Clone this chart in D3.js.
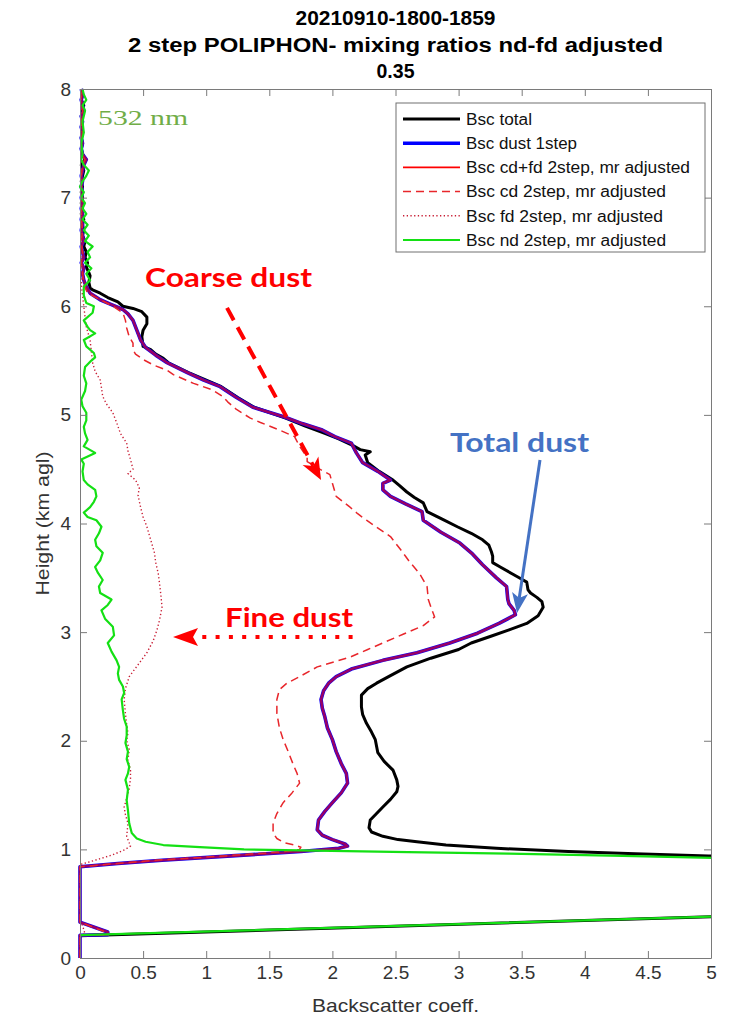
<!DOCTYPE html>
<html>
<head>
<meta charset="utf-8">
<script src="https://cdn.jsdelivr.net/npm/d3@7"></script>
<style>
  body { margin: 0; background: #fff; }
  svg { display: block; }
</style>
</head>
<body>
<svg id="chart" width="734" height="1017"></svg>
<script>
// ---------------------------------------------------------------
// Backscatter profiles, 532 nm, 2021-09-10 18:00-18:59 UTC
// Each profile is a list of [height km agl, backscatter coeff.]
// ---------------------------------------------------------------
const titleLines = ["20210910-1800-1859", "2 step POLIPHON- mixing ratios nd-fd adjusted", "0.35"];
const xTicks = [0, 0.5, 1, 1.5, 2, 2.5, 3, 3.5, 4, 4.5, 5];
const yTicks = [0, 1, 2, 3, 4, 5, 6, 7, 8];
const seriesNames = ["Bsc total", "Bsc dust 1step", "Bsc cd+fd 2step, mr adjusted",
                     "Bsc cd 2step, mr adjusted", "Bsc fd 2step, mr adjusted", "Bsc nd 2step, mr adjusted"];

const bscTotal = [
  [0.205,0],[0.38,5.0],[0.40,5.6],[0.90,5.6],[0.93,5.15],[0.94,4.98],[0.96,4.4],[0.98,3.87],[1.01,3.3],
  [1.04,2.90],[1.07,2.67],[1.09,2.52],[1.12,2.40],[1.16,2.31],[1.20,2.29],[1.27,2.30],[1.33,2.35],[1.39,2.40],
  [1.46,2.46],[1.53,2.51],[1.58,2.52],[1.64,2.51],[1.73,2.48],[1.81,2.41],[1.89,2.36],[2.01,2.34],[2.08,2.31],
  [2.16,2.27],[2.24,2.24],[2.31,2.23],[2.42,2.23],[2.48,2.28],[2.53,2.35],[2.60,2.46],[2.68,2.59],[2.76,2.78],
  [2.84,3.00],[2.90,3.10],[2.96,3.25],[3.02,3.40],[3.08,3.54],[3.15,3.63],[3.23,3.67],[3.28,3.66],[3.32,3.62],
  [3.36,3.57],[3.39,3.55],[3.46,3.54],[3.50,3.48],[3.54,3.42],[3.60,3.33],[3.64,3.27],[3.70,3.27],[3.74,3.26],
  [3.80,3.24],[3.85,3.19],[3.91,3.10],[3.97,2.99],[4.04,2.87],[4.11,2.75],[4.19,2.72],[4.24,2.65],[4.29,2.59],
  [4.35,2.53],[4.40,2.48],[4.48,2.37],[4.56,2.28],[4.63,2.26],[4.66,2.30],[4.68,2.22],[4.72,2.16],[4.78,2.05],
  [4.83,1.94],[4.90,1.78],[4.97,1.63],[5.07,1.38],[5.16,1.25],[5.26,1.12],[5.32,1.00],[5.39,0.86],[5.48,0.70],
  [5.52,0.66],[5.56,0.60],[5.60,0.56],[5.63,0.50],[5.72,0.49],[5.78,0.50],[5.84,0.53],[5.90,0.53],[5.95,0.49],
  [5.98,0.42],[6.00,0.34],[6.04,0.30],[6.08,0.22],[6.12,0.16],[6.15,0.10],[6.17,0.08],[6.22,0.07],[6.28,0.08],
  [6.31,0.07],[6.36,0.05],[6.40,0.06],[6.45,0.04],[6.50,0.05],[6.55,0.03],[6.60,0.04],[6.65,0.02],[6.70,0.03],
  [6.75,0.02],[6.80,0.03],[6.85,0.01],[6.90,0.02],[6.95,0.01],[7.00,0.02],[7.05,0.01],[7.10,0.02],[7.15,0.01],
  [7.20,0.02],[7.25,0.03],[7.30,0.01],[7.35,0.04],[7.40,0.02],[7.45,0.01],[7.50,0.02],[7.55,0.01],[7.60,0.02],
  [7.65,0.01],[7.70,0.02],[7.75,0.01],[7.80,0.02],[7.85,0.03],[7.90,0.01],[7.95,0.02],[8.00,0.01]
];

const bscDust1Step = [
  [0,0],[0.21,0],[0.215,0.22],[0.24,0.22],[0.33,0],[0.84,0],[0.87,0.3],[0.90,0.65],[0.94,1.2],[0.98,1.75],
  [1.01,2.05],[1.03,2.12],[1.05,2.10],[1.09,2.00],[1.13,1.92],[1.18,1.88],[1.27,1.89],[1.35,1.94],[1.43,2.00],
  [1.52,2.07],[1.61,2.12],[1.70,2.11],[1.79,2.07],[1.90,2.03],[2.01,2.00],[2.12,1.96],[2.22,1.94],[2.30,1.92],
  [2.38,1.91],[2.46,1.93],[2.53,1.97],[2.59,2.03],[2.66,2.15],[2.74,2.40],[2.81,2.67],[2.90,2.93],[2.99,3.15],
  [3.08,3.32],[3.16,3.45],[3.20,3.44],[3.26,3.40],[3.30,3.39],[3.42,3.38],[3.50,3.30],[3.62,3.19],[3.72,3.11],
  [3.82,3.01],[3.92,2.86],[4.03,2.72],[4.11,2.71],[4.18,2.58],[4.25,2.46],[4.31,2.40],[4.37,2.40],[4.40,2.46],
  [4.48,2.36],[4.56,2.24],[4.65,2.19],[4.74,2.15],[4.80,2.02],[4.86,1.92],[4.92,1.76],[4.98,1.62],[5.07,1.37],
  [5.16,1.24],[5.26,1.11],[5.32,0.98],[5.39,0.85],[5.48,0.69],[5.55,0.60],[5.62,0.52],[5.69,0.48],[5.78,0.45],
  [5.87,0.42],[5.93,0.38],[5.97,0.34],[6.02,0.24],[6.06,0.16],[6.12,0.08],[6.18,0.05],[6.24,0.03],[6.30,0.02],
  [6.35,0.03],[6.40,0.01],[6.45,0.03],[6.50,0.02],[6.55,0.01],[6.60,0.03],[6.65,0.02],[6.70,0.01],[6.75,0.02],
  [6.80,0.01],[6.85,0.02],[6.90,0.01],[6.95,0.02],[7.00,0.01],[7.05,0.02],[7.10,0.01],[7.15,0.02],[7.20,0.01],
  [7.25,0.02],[7.30,0.03],[7.35,0.05],[7.40,0.02],[7.45,0.01],[7.50,0.02],[7.55,0.01],[7.60,0.02],[7.65,0.01],
  [7.70,0.02],[7.75,0.01],[7.80,0.03],[7.85,0.02],[7.90,0.01],[7.95,0.02],[8.00,0.01]
];

// the 2-step coarse+fine sum coincides with the 1-step dust profile
const bscCdFd2Step = bscDust1Step;

const bscCd2Step = [
  [0,0],[0.21,0],[0.215,0.2],[0.24,0.2],[0.33,0],[0.84,0],[0.87,0.3],[0.90,0.6],[0.94,1.15],[0.98,1.62],
  [1.00,1.74],[1.02,1.75],[1.04,1.70],[1.06,1.62],[1.10,1.56],[1.15,1.53],[1.24,1.53],[1.33,1.56],[1.43,1.61],
  [1.52,1.68],[1.61,1.74],[1.70,1.72],[1.78,1.69],[1.90,1.65],[2.01,1.61],[2.12,1.58],[2.25,1.56],[2.38,1.56],
  [2.47,1.58],[2.53,1.64],[2.59,1.74],[2.68,1.88],[2.77,2.14],[2.84,2.28],[2.90,2.40],[2.98,2.56],[3.06,2.72],
  [3.14,2.81],[3.20,2.79],[3.30,2.76],[3.42,2.75],[3.54,2.69],[3.65,2.61],[3.76,2.54],[3.88,2.46],[3.95,2.37],
  [4.03,2.27],[4.09,2.20],[4.15,2.14],[4.25,2.03],[4.37,2.00],[4.45,1.98],[4.50,1.90],[4.57,1.80],[4.61,1.80],
  [4.71,1.74],[4.80,1.70],[4.86,1.58],[4.93,1.43],[4.97,1.35],[5.05,1.24],[5.12,1.17],[5.17,1.13],[5.23,1.05],
  [5.29,0.90],[5.37,0.74],[5.41,0.69],[5.46,0.58],[5.51,0.50],[5.56,0.44],[5.60,0.42],[5.66,0.42],[5.72,0.39],
  [5.80,0.37],[5.87,0.36],[5.94,0.34],[6.00,0.26],[6.06,0.16],[6.12,0.06],[6.20,0.03],[6.30,0.02],[6.40,0.01],
  [6.50,0.02],[6.60,0.01],[6.70,0.02],[6.80,0.01],[6.90,0.01],[7.00,0.02],[7.10,0.01],[7.20,0.01],[7.30,0.02],
  [7.35,0.04],[7.40,0.01],[7.50,0.01],[7.60,0.02],[7.70,0.01],[7.80,0.02],[7.90,0.01],[8.00,0.01]
];

const bscFd2Step = [
  [0,0],[0.21,0],[0.22,0.04],[0.30,0.02],[0.33,0],[0.86,0],[0.90,0.12],[0.95,0.26],[1.00,0.36],[1.03,0.40],
  [1.06,0.39],[1.12,0.37],[1.24,0.38],[1.32,0.36],[1.39,0.35],[1.47,0.37],[1.56,0.39],[1.65,0.40],[1.73,0.40],
  [1.82,0.38],[1.92,0.39],[2.00,0.37],[2.07,0.38],[2.15,0.37],[2.25,0.36],[2.38,0.35],[2.48,0.36],[2.59,0.39],
  [2.70,0.46],[2.81,0.53],[2.92,0.58],[3.02,0.61],[3.11,0.63],[3.23,0.65],[3.35,0.64],[3.45,0.63],[3.54,0.62],
  [3.64,0.60],[3.73,0.59],[3.85,0.56],[3.97,0.53],[4.06,0.50],[4.15,0.48],[4.26,0.46],[4.33,0.47],[4.40,0.44],
  [4.46,0.38],[4.50,0.42],[4.59,0.40],[4.67,0.38],[4.74,0.37],[4.83,0.32],[4.93,0.29],[5.02,0.26],[5.10,0.21],
  [5.17,0.18],[5.25,0.17],[5.32,0.16],[5.40,0.12],[5.48,0.10],[5.58,0.09],[5.69,0.08],[5.81,0.05],[5.90,0.04],
  [6.00,0.03],[6.10,0.02],[6.20,0.01],[6.30,0.02],[6.40,0.01],[6.50,0.02],[6.60,0.01],[6.80,0.01],[7.00,0.02],
  [7.20,0.01],[7.35,0.03],[7.50,0.01],[7.70,0.02],[7.90,0.01],[8.00,0.01]
];

const bscNd2Step = [
  [0.21,0],[0.38,5.0],[0.40,5.6],[0.90,5.6],[0.92,5.05],[0.94,4.3],[0.96,3.4],[0.975,2.6],[0.99,1.75],
  [1.00,1.30],[1.02,0.95],[1.04,0.66],[1.07,0.52],[1.10,0.45],[1.15,0.41],[1.24,0.39],[1.36,0.38],[1.45,0.37],
  [1.55,0.38],[1.64,0.36],[1.70,0.38],[1.76,0.39],[1.83,0.37],[1.90,0.38],[1.98,0.36],[2.05,0.37],[2.13,0.37],
  [2.20,0.35],[2.28,0.34],[2.38,0.33],[2.44,0.35],[2.50,0.34],[2.56,0.31],[2.62,0.30],[2.68,0.31],[2.74,0.29],
  [2.82,0.25],[2.90,0.22],[2.97,0.27],[3.05,0.26],[3.12,0.20],[3.20,0.17],[3.25,0.22],[3.30,0.25],[3.36,0.16],
  [3.42,0.15],[3.48,0.18],[3.55,0.14],[3.60,0.12],[3.66,0.16],[3.73,0.18],[3.79,0.13],[3.85,0.12],[3.91,0.15],
  [3.97,0.17],[4.03,0.13],[4.06,0.06],[4.10,0.03],[4.15,0.08],[4.20,0.11],[4.25,0.13],[4.31,0.12],[4.36,0.06],
  [4.40,0.03],[4.48,0.02],[4.55,0.03],[4.59,0.01],[4.65,0.12],[4.71,0.03],[4.77,0.06],[4.83,0.04],[4.89,0.03],
  [4.95,0.05],[5.02,0.05],[5.08,0.02],[5.14,0.01],[5.22,0.04],[5.29,0.05],[5.36,0.03],[5.44,0.04],[5.50,0.09],
  [5.53,0.12],[5.57,0.11],[5.63,0.05],[5.69,0.03],[5.75,0.12],[5.78,0.08],[5.81,0.06],[5.87,0.03],[5.94,0.10],
  [6.00,0.11],[6.03,0.05],[6.10,0.03],[6.18,0.03],[6.24,0.08],[6.30,0.05],[6.35,0.09],[6.40,0.04],[6.45,0.08],
  [6.50,0.06],[6.55,0.10],[6.60,0.04],[6.65,0.07],[6.70,0.03],[6.75,0.06],[6.80,0.02],[6.85,0.05],[6.90,0.02],
  [6.95,0.04],[7.00,0.01],[7.05,0.03],[7.10,0.00],[7.15,0.02],[7.20,0.05],[7.25,0.07],[7.30,0.03],[7.35,0.01],
  [7.40,0.02],[7.50,0.01],[7.60,0.03],[7.70,0.02],[7.80,0.04],[7.85,0.02],[7.90,0.05],[7.95,0.03],[8.00,0.02]
];

// ---------------------------------------------------------------
// Layout
// ---------------------------------------------------------------
const svg = d3.select("#chart");
const plot = { left: 80, right: 711, top: 89, bottom: 958 };
const x = d3.scaleLinear().domain([0, 5]).range([plot.left, plot.right]);
const y = d3.scaleLinear().domain([0, 8]).range([plot.bottom, plot.top]);

const font = "'Liberation Sans', Arial, Helvetica, sans-serif";
const axisColor = "#7a7a7a";
const labelColor = "#333";

svg.append("rect").attr("width", 734).attr("height", 1017).attr("fill", "#fff");

svg.append("defs").append("clipPath").attr("id", "plotClip")
  .append("rect")
  .attr("x", plot.left - 2).attr("y", plot.top - 2)
  .attr("width", plot.right - plot.left + 3).attr("height", plot.bottom - plot.top + 4);

// ---------------------------------------------------------------
// Profiles
// ---------------------------------------------------------------
const profile = d3.line().x(d => x(d[1])).y(d => y(d[0]));

const series = [
  { data: bscTotal,     stroke: "#000000", width: 3.0, dash: null,      opacity: 1 },
  { data: bscDust1Step, stroke: "#0000ff", width: 3.6, dash: null,      opacity: 1 },
  { data: bscCdFd2Step, stroke: "#ff0000", width: 2.6, dash: null,      opacity: 0.6 },
  { data: bscCd2Step,   stroke: "#e8262b", width: 1.5, dash: "8,5",     opacity: 1 },
  { data: bscFd2Step,   stroke: "#c81e35", width: 1.4, dash: "1.3,2.4", opacity: 1 },
  { data: bscNd2Step,   stroke: "#14e014", width: 2.2, dash: null,      opacity: 1 }
];

const lines = svg.append("g").attr("clip-path", "url(#plotClip)");
series.forEach(s => {
  lines.append("path")
    .attr("d", profile(s.data))
    .attr("fill", "none")
    .attr("stroke", s.stroke)
    .attr("stroke-width", s.width)
    .attr("stroke-opacity", s.opacity)
    .attr("stroke-linejoin", "round")
    .attr("stroke-dasharray", s.dash);
});

// ---------------------------------------------------------------
// Axes (box with inward ticks on all four sides)
// ---------------------------------------------------------------
const fmt = d => String(d);
function styleAxis(g, showLabels) {
  g.selectAll(".domain").attr("stroke", axisColor).attr("stroke-width", 1);
  g.selectAll(".tick line").attr("stroke", axisColor).attr("stroke-width", 1);
  g.selectAll(".tick text")
    .attr("fill", labelColor)
    .style("font-family", font)
    .style("font-size", "19px");
  if (!showLabels) g.selectAll(".tick text").remove();
}

svg.append("g").attr("transform", `translate(0,${plot.bottom})`)
  .call(d3.axisBottom(x).tickValues(xTicks).tickFormat(fmt).tickSizeInner(-7).tickSizeOuter(0).tickPadding(8))
  .call(g => styleAxis(g, true));
svg.append("g").attr("transform", `translate(0,${plot.top})`)
  .call(d3.axisTop(x).tickValues(xTicks).tickSizeInner(-7).tickSizeOuter(0))
  .call(g => styleAxis(g, false));
svg.append("g").attr("transform", `translate(${plot.left},0)`)
  .call(d3.axisLeft(y).tickValues(yTicks).tickFormat(fmt).tickSizeInner(-7).tickSizeOuter(0).tickPadding(9))
  .call(g => styleAxis(g, true));
svg.append("g").attr("transform", `translate(${plot.right},0)`)
  .call(d3.axisRight(y).tickValues(yTicks).tickSizeInner(-7).tickSizeOuter(0))
  .call(g => styleAxis(g, false));

// Axis titles
svg.append("text")
  .attr("x", (plot.left + plot.right) / 2).attr("y", 1012)
  .attr("text-anchor", "middle")
  .attr("fill", labelColor)
  .style("font-family", font).style("font-size", "19px")
  .attr("textLength", 167).attr("lengthAdjust", "spacingAndGlyphs")
  .text("Backscatter coeff.");

svg.append("text")
  .attr("transform", `translate(49,${(plot.top + plot.bottom) / 2}) rotate(-90)`)
  .attr("text-anchor", "middle")
  .attr("fill", labelColor)
  .style("font-family", font).style("font-size", "19px")
  .attr("textLength", 144).attr("lengthAdjust", "spacingAndGlyphs")
  .text("Height (km agl)");

// Title
const titleWidths = [200, 535, 38];
const titleBase = [25, 52, 78];
titleLines.forEach((t, i) => {
  svg.append("text")
    .attr("x", (plot.left + plot.right) / 2).attr("y", titleBase[i])
    .attr("text-anchor", "middle")
    .attr("fill", "#000")
    .style("font-family", font).style("font-size", "20px").style("font-weight", "bold")
    .attr("textLength", titleWidths[i]).attr("lengthAdjust", "spacingAndGlyphs")
    .text(t);
});

// ---------------------------------------------------------------
// Legend
// ---------------------------------------------------------------
const legend = svg.append("g");
legend.append("rect")
  .attr("x", 396).attr("y", 103).attr("width", 309).attr("height", 149)
  .attr("fill", "#fff").attr("stroke", "#707070").attr("stroke-width", 1);
const legendWidths = [66, 111, 224, 200, 197, 200];
seriesNames.forEach((name, i) => {
  const s = series[i];
  const cy = 119 + i * 24.2;
  legend.append("line")
    .attr("x1", 403).attr("x2", 460).attr("y1", cy).attr("y2", cy)
    .attr("stroke", s.stroke)
    .attr("stroke-width", i === 2 ? 1.6 : s.width)
    .attr("stroke-dasharray", s.dash);
  legend.append("text")
    .attr("x", 466).attr("y", cy + 5.8)
    .attr("fill", "#111")
    .style("font-family", font).style("font-size", "16px")
    .attr("textLength", legendWidths[i]).attr("lengthAdjust", "spacingAndGlyphs")
    .text(name);
});

// ---------------------------------------------------------------
// Annotations
// ---------------------------------------------------------------
const noteFont = "Lato, 'Open Sans', sans-serif";

function stealthHead(g, from, tip, len, half, notch, color) {
  const dx = tip[0] - from[0], dy = tip[1] - from[1];
  const n = Math.hypot(dx, dy), ux = dx / n, uy = dy / n;
  const bx = tip[0] - ux * len, by = tip[1] - uy * len;
  const pts = [
    tip,
    [bx - uy * half, by + ux * half],
    [tip[0] - ux * (len - notch), tip[1] - uy * (len - notch)],
    [bx + uy * half, by - ux * half]
  ];
  g.append("polygon").attr("points", pts.map(p => p.join(",")).join(" ")).attr("fill", color);
  return [tip[0] - ux * (len - notch), tip[1] - uy * (len - notch)];
}

const notes = svg.append("g");

// wavelength tag
notes.append("text")
  .attr("x", x(0.143)).attr("y", y(7.67))
  .attr("fill", "#70ad47")
  .style("font-family", "'Liberation Serif', 'DejaVu Serif', serif").style("font-size", "21px")
  .attr("textLength", 90).attr("lengthAdjust", "spacingAndGlyphs")
  .text("532 nm");

// Coarse dust
notes.append("text")
  .attr("x", x(0.515)).attr("y", y(6.179))
  .attr("fill", "#ff0000")
  .style("font-family", noteFont).style("font-size", "27px").style("font-weight", "bold")
  .attr("textLength", 167).attr("lengthAdjust", "spacingAndGlyphs")
  .text("Coarse dust");
{
  const from = [x(1.165), y(5.985)], tip = [x(1.91), y(4.40)];
  const end = stealthHead(notes, from, tip, 22, 9, 6, "#ff0000");
  notes.append("line")
    .attr("x1", from[0]).attr("y1", from[1]).attr("x2", end[0]).attr("y2", end[1])
    .attr("stroke", "#ff0000").attr("stroke-width", 4).attr("stroke-dasharray", "14,8");
}

// Total dust
notes.append("text")
  .attr("x", x(3.4828)).attr("y", y(4.66))
  .attr("text-anchor", "middle")
  .attr("fill", "#4472c4")
  .style("font-family", noteFont).style("font-size", "27px").style("font-weight", "bold")
  .attr("textLength", 139).attr("lengthAdjust", "spacingAndGlyphs")
  .text("Total dust");
{
  const from = [x(3.645), y(4.585)], tip = [x(3.463), y(3.177)];
  const end = stealthHead(notes, from, tip, 20, 8, 5, "#4472c4");
  notes.append("line")
    .attr("x1", from[0]).attr("y1", from[1]).attr("x2", end[0]).attr("y2", end[1])
    .attr("stroke", "#4472c4").attr("stroke-width", 3);
}

// Fine dust
notes.append("text")
  .attr("x", x(1.149)).attr("y", y(3.048))
  .attr("fill", "#ff0000")
  .style("font-family", noteFont).style("font-size", "27px").style("font-weight", "bold")
  .attr("textLength", 128).attr("lengthAdjust", "spacingAndGlyphs")
  .text("Fine dust");
{
  const from = [x(2.16), y(2.956)], tip = [x(0.737), y(2.956)];
  const end = stealthHead(notes, from, tip, 25, 9, 5, "#ff0000");
  notes.append("line")
    .attr("x1", from[0]).attr("y1", from[1]).attr("x2", end[0] - 4).attr("y2", end[1])
    .attr("stroke", "#ff0000").attr("stroke-width", 4).attr("stroke-dasharray", "4,9.3");
}
</script>
</body>
</html>
